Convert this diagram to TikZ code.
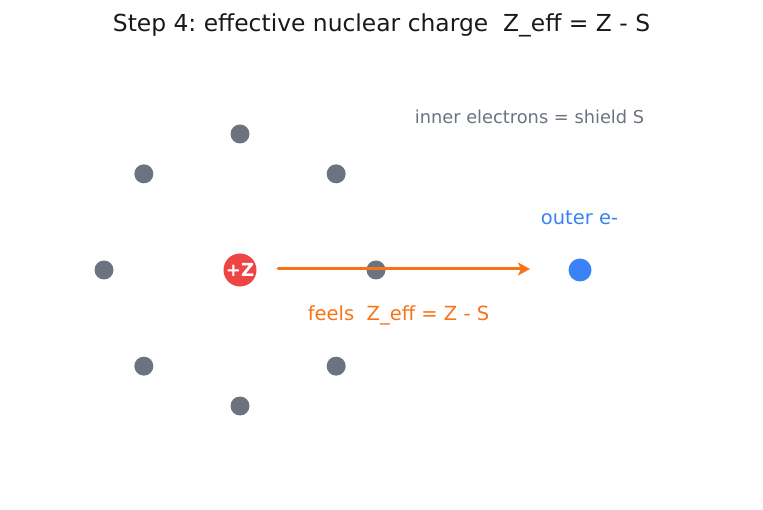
\documentclass[tikz,border=0pt]{standalone}
\usepackage{fontspec}
\setmainfont{DejaVu Sans}
\usetikzlibrary{arrows.meta}
\definecolor{nucred}{HTML}{EF4444}
\definecolor{egray}{HTML}{6B7280}
\definecolor{eblue}{HTML}{3B82F6}
\definecolor{eorange}{HTML}{F97316}
\begin{document}
\frenchspacing
\begin{tikzpicture}[x=1pt,y=-1pt,
  inner/.style={circle,fill=egray,minimum size=19pt,inner sep=0pt},
  lbl/.style={inner sep=0pt,anchor=center}]
\useasboundingbox (0,0) rectangle (763,510);
\node[lbl,font=\fontsize{23.4}{27}\selectfont,text=black!90] (title) at (381.5,25) {Step 4: effective nuclear charge\ \ Z\_eff = Z - S};
\foreach \a [count=\i] in {0,45,90,135,180,225,270,315}
  \node[inner] (e\i) at ({240+136*cos(\a)},{270-136*sin(\a)}) {};
\node[circle,fill=nucred,minimum size=33pt,inner sep=0pt,text=white,font=\bfseries\fontsize{18}{20}\selectfont] (nuc) at (240,270) {+Z};
\node[circle,fill=eblue,minimum size=23pt,inner sep=0pt] (outer) at (580,270) {};
\coordinate (as) at (278,269);
\coordinate (ae) at (530,269);
\draw[eorange,line width=3pt,line cap=round,-{Stealth[length=12pt,width=13pt,inset=3pt]}] (as) -- (ae);
\node[lbl,font=\fontsize{17.8}{20}\selectfont,text=egray] (shield) at (529.5,117) {inner electrons = shield S};
\node[lbl,font=\fontsize{19.5}{22}\selectfont,text=eblue] (outlbl) at (579.5,218) {outer e-};
\node[lbl,font=\fontsize{19.5}{22}\selectfont,text=eorange] (feels) at (398.5,315) {feels\ \ Z\_eff = Z - S};
\end{tikzpicture}
\end{document}
